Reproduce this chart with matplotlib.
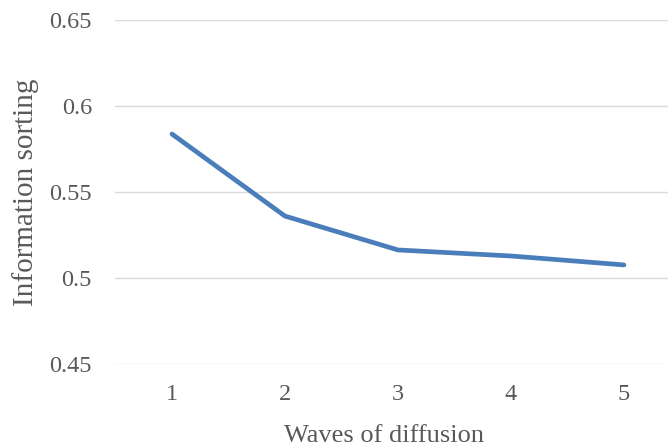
import matplotlib
matplotlib.use('Agg')
from matplotlib import pyplot as plt
import numpy as np

plt.rcParams['font.family'] = ['Liberation Serif', 'DejaVu Serif']

waves = [1, 2, 3, 4, 5]
sorting = [0.5837, 0.536, 0.5163, 0.5128, 0.5076]
yticks = [0.45, 0.5, 0.55, 0.6, 0.65]
ylabels = ['0.45', '0.5', '0.55', '0.6', '0.65']

fig = plt.figure(figsize=(6.68, 4.47), dpi=100)
ax = fig.add_axes([115.5/668, (447-364)/447, (668-115.5)/668, 344/447])

ax.plot(waves, sorting, color='#4a7ebb', lw=3.4, solid_capstyle='round', zorder=3)

ax.set_xlim(0.5, 5.39)
ax.set_ylim(0.45, 0.65)
ax.set_yticks(yticks)
ax.set_yticklabels(ylabels)
ax.set_xticks(waves)
ax.grid(axis='y', color='#d9d9d9', lw=1.0)
ax.set_axisbelow(True)
for s in ax.spines.values():
    s.set_visible(False)
ax.tick_params(length=0, labelsize=17.5, colors='#595959')
ax.tick_params(axis='y', pad=17)
ax.tick_params(axis='x', pad=14.5)

# axis titles placed like the excel chart
fig.text(384/668, 1 - 442/447, 'Waves of diffusion', fontsize=19, color='#595959',
         ha='center', va='baseline')
fig.text(26/668, 1 - 192/447, 'Information sorting', fontsize=21, color='#595959',
         ha='center', va='center', rotation=90)

fig.savefig('out.png', dpi=100)
